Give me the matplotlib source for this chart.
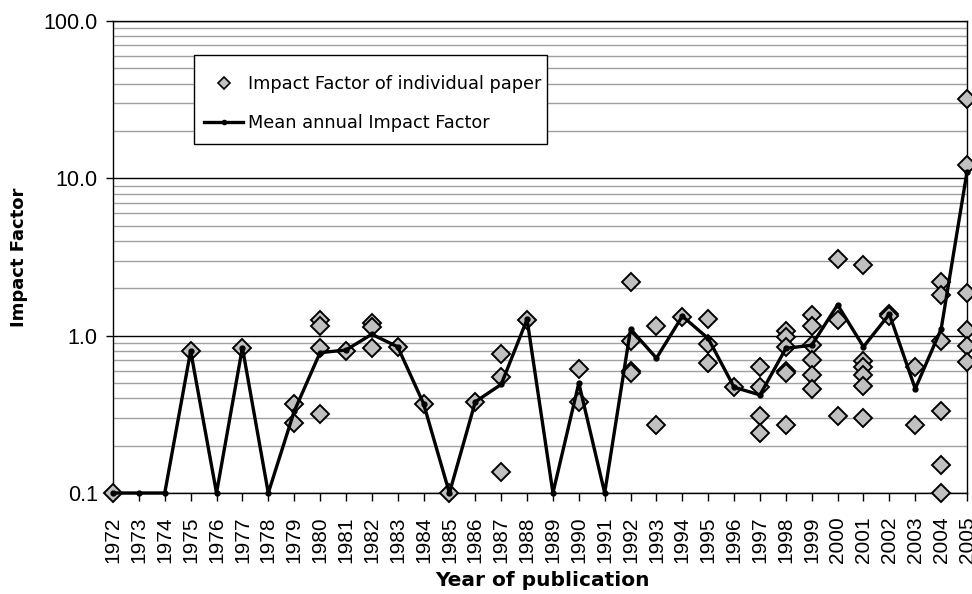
import matplotlib
matplotlib.use("Agg")
import matplotlib.pyplot as plt
from matplotlib.ticker import LogLocator, NullFormatter
from matplotlib.lines import Line2D
from matplotlib.patches import Rectangle

# --- data ---
years = list(range(1972, 2006))
mean_if = [0.1, 0.1, 0.1, 0.8, 0.1, 0.84, 0.1, 0.33, 0.78, 0.81,
           1.02, 0.85, 0.37, 0.1, 0.38, 0.49, 1.27, 0.1, 0.5, 0.1,
           1.1, 0.72, 1.33, 0.96, 0.47, 0.42, 0.83, 0.87, 1.57, 0.85,
           1.37, 0.46, 1.1, 11.0]

paper_years = [1972, 1975, 1977, 1979, 1979,
               1980, 1980, 1980, 1980, 1981,
               1982, 1982, 1982, 1983, 1984, 1985, 1986,
               1987, 1987, 1987, 1988, 1990, 1990,
               1992, 1992, 1992, 1992, 1993, 1993, 1994,
               1995, 1995, 1995, 1996,
               1997, 1997, 1997, 1997,
               1998, 1998, 1998, 1998, 1998, 1998,
               1999, 1999, 1999, 1999, 1999, 1999,
               2000, 2000, 2000,
               2001, 2001, 2001, 2001, 2001, 2001,
               2002, 2002, 2003, 2003,
               2004, 2004, 2004, 2004, 2004, 2004,
               2005, 2005, 2005, 2005, 2005, 2005]
paper_if = [0.1, 0.8, 0.84, 0.37, 0.28,
            1.25, 1.15, 0.84, 0.32, 0.80,
            1.2, 1.13, 0.83, 0.85, 0.37, 0.1, 0.38,
            0.76, 0.55, 0.135, 1.26, 0.61, 0.38,
            2.19, 0.93, 0.6, 0.58, 1.16, 0.27, 1.31,
            1.28, 0.88, 0.67, 0.47,
            0.63, 0.47, 0.31, 0.24,
            1.07, 0.98, 0.85, 0.6, 0.58, 0.27,
            1.36, 1.15, 0.87, 0.70, 0.56, 0.46,
            3.05, 1.25, 0.31,
            2.8, 0.69, 0.63, 0.56, 0.48, 0.30,
            1.38, 1.33, 0.63, 0.27,
            2.2, 1.82, 0.93, 0.33, 0.15, 0.1,
            32.0, 12.2, 1.88, 1.08, 0.86, 0.68]

y_ticks = [0.1, 1, 10, 100]
y_labels = ["0.1", "1.0", "10.0", "100.0"]

W, H = 972, 594
fig = plt.figure(figsize=(W / 100, H / 100), dpi=100)
# plot area in pixels: x 113..967, y 21..493
ax = fig.add_axes([113 / W, 1 - 493 / H, 854 / W, 472 / H])

def ax_frac(px, py):
    return (px - 113) / 854, (493 - py) / 472

ax.plot(paper_years, paper_if, linestyle="none", marker="D", markersize=8.8,
        markerfacecolor="#c0c0c0", markeredgecolor="black", markeredgewidth=1.4,
        clip_on=False, zorder=3)
ax.plot(years, mean_if, color="black", linewidth=2.4, marker="o", markersize=3.5,
        clip_on=False, zorder=4)

ax.set_yscale("log")
ax.set_ylim(0.1, 100)
ax.set_xlim(1972, 2005)

ax.set_yticks(y_ticks)
ax.set_yticklabels(y_labels, fontsize=15.5, family="Liberation Sans")
ax.yaxis.set_minor_locator(LogLocator(base=10, subs=range(2, 10)))
ax.yaxis.set_minor_formatter(NullFormatter())
ax.tick_params(axis="y", which="major", direction="out", length=5, width=1, pad=6)
ax.tick_params(axis="y", which="minor", length=0)

ax.set_xticks(years)
ax.set_xticklabels([str(y) for y in years], rotation=90, fontsize=15,
                   family="Liberation Sans")
ax.tick_params(axis="x", direction="out", length=6, width=1, pad=11)

ax.grid(True, which="minor", axis="y", color="#a0a0a0", linewidth=1.0)
ax.grid(True, which="major", axis="y", color="black", linewidth=1.0)
ax.set_axisbelow(True)
for s in ax.spines.values():
    s.set_linewidth(1.0)
    s.set_color("black")

ax.set_xlabel("Year of publication", fontsize=14.5, fontweight="bold")
ax.xaxis.set_label_coords(*ax_frac(542, 580))
ax.xaxis.label.set_va("center")
ax.set_ylabel("Impact Factor", fontsize=13, fontweight="bold")
ax.yaxis.set_label_coords(ax_frac(19, 0)[0], 0.5)
ax.yaxis.label.set_va("center")

# legend box (Excel style: square, thin black border)
x0, y0 = ax_frac(194, 144)
x1, y1 = ax_frac(547, 55)
ax.add_patch(Rectangle((x0, y0), x1 - x0, y1 - y0, transform=ax.transAxes,
                       facecolor="white", edgecolor="black", linewidth=1.0,
                       zorder=5))

handles = [
    Line2D([], [], linestyle="none", marker="D", markersize=6,
           markerfacecolor="#c0c0c0", markeredgecolor="black", markeredgewidth=1.2),
    Line2D([], [], color="black", linewidth=2.4, marker="o", markersize=3),
]
leg = ax.legend(handles, ["Impact Factor of individual paper", "Mean annual Impact Factor"],
                loc="upper left", bbox_to_anchor=ax_frac(204, 75), fontsize=12.8,
                frameon=False, handlelength=2.2, handletextpad=0.28,
                borderpad=0, labelspacing=1.17, borderaxespad=0)
leg.set_zorder(6)

fig.savefig("out.png", dpi=100)
